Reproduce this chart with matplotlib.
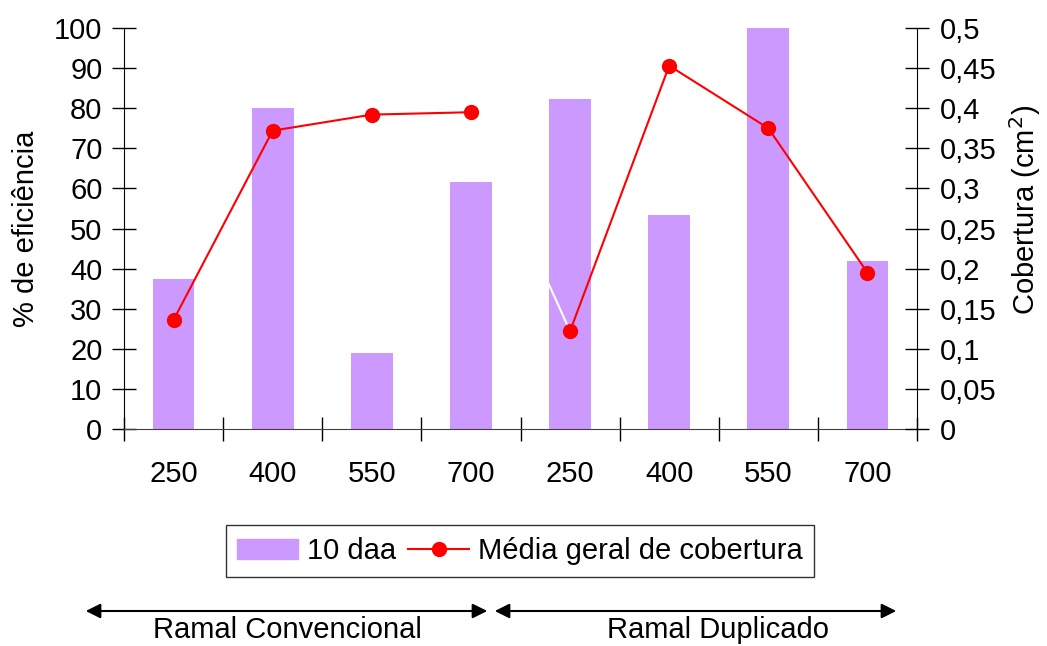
import matplotlib.pyplot as plt
import numpy as np
from matplotlib.patches import FancyArrowPatch
from matplotlib.lines import Line2D
from matplotlib.patches import Patch

plt.rcParams['font.family'] = ['Liberation Sans', 'DejaVu Sans']
plt.rcParams['font.size'] = 21

# dati
categorie = ["250", "400", "550", "700", "250", "400", "550", "700"]
eficiencia = [37.4, 80.0, 19.0, 61.6, 82.3, 53.4, 100.0, 41.9]
cobertura = [0.136, 0.372, 0.392, 0.395, 0.122, 0.453, 0.375, 0.195]
gruppi = ["Ramal Convencional", "Ramal Duplicado"]

viola = "#CC99FF"
rosso = "#FF0000"

fig = plt.figure(figsize=(10.47, 6.46), dpi=100)
ax = fig.add_axes([124 / 1047, 1 - 429 / 646, (917 - 124) / 1047, (429 - 28) / 646])
ax2 = ax.twinx()

x = np.arange(len(categorie)) + 0.5
ax.bar(x, eficiencia, width=0.42, color=viola, zorder=2)

# segmento bianco tra i due gruppi (visibile solo sopra la barra)
ax2.plot(x[3:5], cobertura[3:5], color="white", lw=1.5, zorder=3)
ax2.plot(x[:4], cobertura[:4], color=rosso, lw=1.5, marker="o", ms=10, zorder=4)
ax2.plot(x[4:], cobertura[4:], color=rosso, lw=1.5, marker="o", ms=10, zorder=4)

ax.set_xlim(0, len(categorie))
ax.set_ylim(0, 100)
ax2.set_ylim(0, 0.5)
ax.set_yticks(np.arange(0, 101, 10))
ax2.set_yticks(np.arange(0, 0.51, 0.05))
ax2.set_yticklabels(["0"] + [("%g" % v).replace(".", ",") for v in np.arange(0.05, 0.51, 0.05)])

ax.set_xticks(np.arange(0, len(categorie) + 1))
ax.set_xticklabels([])
ax.set_xticks(x, minor=True)
ax.set_xticklabels(categorie, minor=True)
ax.tick_params(axis="x", which="major", direction="inout", length=17, width=1)
ax.tick_params(axis="x", which="minor", length=0, pad=22)
ax.tick_params(axis="y", direction="inout", length=17, width=1, pad=7)
ax2.tick_params(axis="y", direction="inout", length=17, width=1, pad=8)

for a in (ax, ax2):
    a.spines["top"].set_visible(False)
ax.spines["right"].set_visible(False)
ax2.spines["left"].set_visible(False)
ax2.spines["bottom"].set_visible(False)
ax.spines["bottom"].set_color("#404040")

ax.set_ylabel("% de eficiência")
ax.yaxis.set_label_coords(-0.106, 0.5)
ax2.set_ylabel("Cobertura (cm$^2$)", rotation=90)
ax2.yaxis.set_label_coords(1.114, 0.546)

handles = [Patch(color=viola),
           Line2D([], [], color=rosso, lw=1.5, marker="o", ms=10)]
leg = fig.legend(handles, ["10 daa", "Média geral de cobertura"], ncol=2,
                 loc="center", bbox_to_anchor=(520 / 1047, 1 - 551 / 646),
                 frameon=True, fancybox=False, edgecolor="black",
                 handlelength=2.1, handletextpad=0.3, columnspacing=0.4,
                 borderpad=0.4, fontsize=21)
leg.get_frame().set_linewidth(1)

# frecce dei gruppi
y_freccia = 1 - 611 / 646
for x0, x1 in [(83, 490), (492, 899)]:
    fig.add_artist(FancyArrowPatch((x0 / 1047, y_freccia), (x1 / 1047, y_freccia),
                                   transform=fig.transFigure, arrowstyle="<|-|>",
                                   mutation_scale=22, color="black", lw=1.5))
fig.text(287 / 1047, 1 - 638 / 646, gruppi[0], ha="center", va="baseline")
fig.text(718 / 1047, 1 - 638 / 646, gruppi[1], ha="center", va="baseline")

fig.savefig("out.png", dpi=100)
